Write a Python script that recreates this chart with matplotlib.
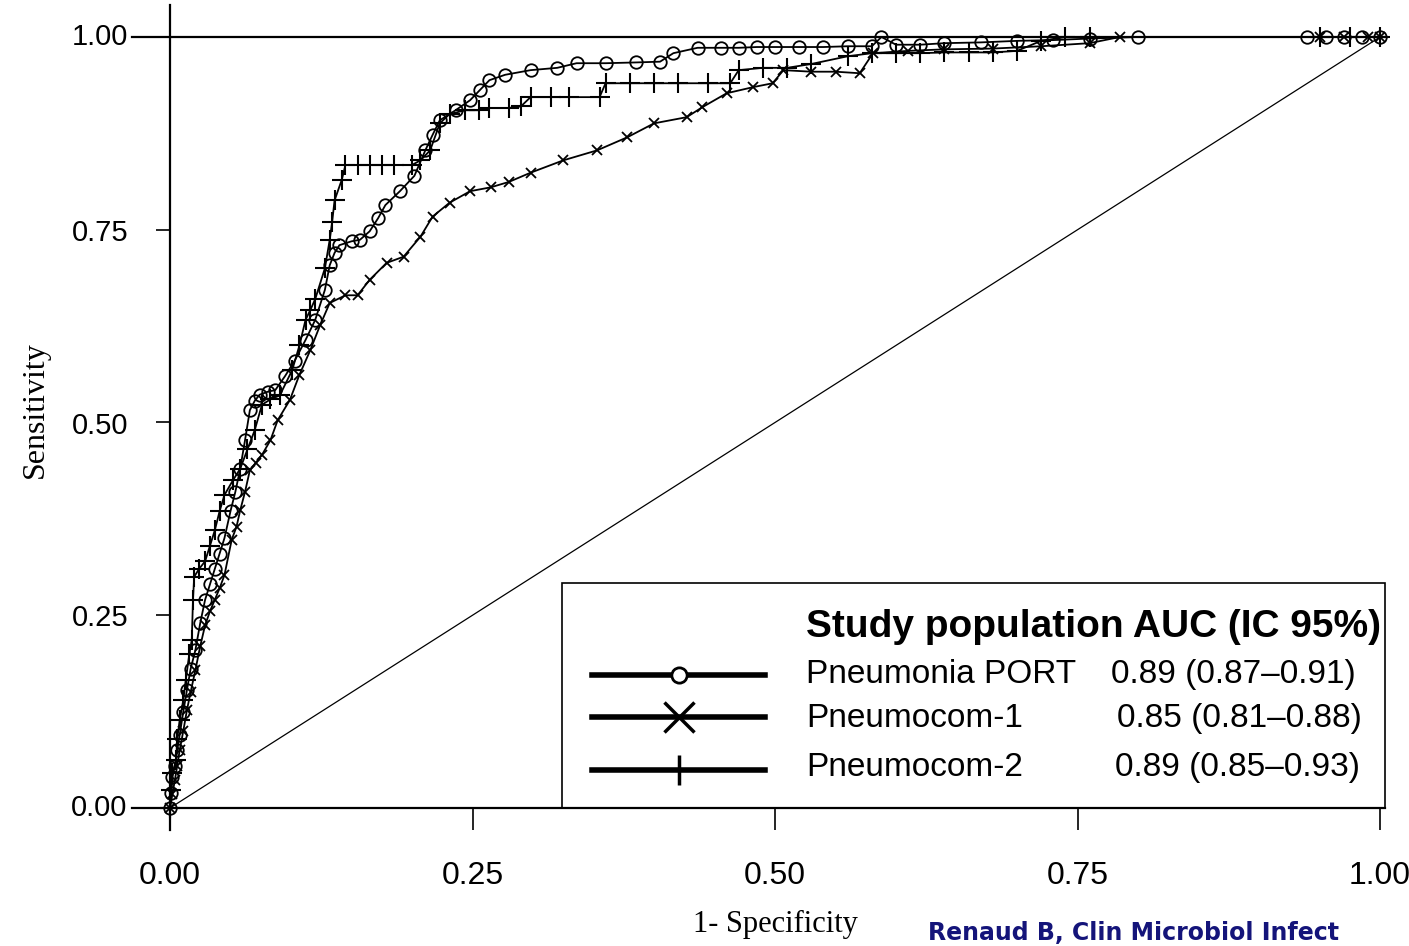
import matplotlib
matplotlib.use("Agg")
import matplotlib.pyplot as plt
from matplotlib.patches import Rectangle

## DATA
port_x = [0.000, 0.001, 0.002, 0.004, 0.006, 0.008, 0.011, 0.014, 0.017, 0.021, 0.025, 0.029, 0.033,
          0.037, 0.041, 0.045, 0.050, 0.054, 0.058, 0.062, 0.066, 0.070, 0.074, 0.081, 0.087, 0.095,
          0.103, 0.112, 0.120, 0.128, 0.132, 0.136, 0.140, 0.150, 0.157, 0.165, 0.172, 0.178, 0.190,
          0.202, 0.211, 0.217, 0.223, 0.236, 0.248, 0.256, 0.264, 0.277, 0.298, 0.320, 0.336, 0.360,
          0.385, 0.405, 0.416, 0.436, 0.455, 0.470, 0.485, 0.500, 0.520, 0.540, 0.560, 0.580, 0.588,
          0.600, 0.620, 0.640, 0.670, 0.700, 0.730, 0.760, 0.800, 0.940, 0.955, 0.970, 0.985, 1.000]
port_y = [0.000, 0.020, 0.040, 0.055, 0.075, 0.095, 0.125, 0.153, 0.180, 0.205, 0.240, 0.270, 0.290,
          0.310, 0.330, 0.350, 0.385, 0.410, 0.440, 0.477, 0.516, 0.528, 0.536, 0.540, 0.542, 0.560,
          0.580, 0.607, 0.633, 0.672, 0.704, 0.720, 0.730, 0.735, 0.737, 0.748, 0.765, 0.782, 0.800,
          0.820, 0.853, 0.873, 0.892, 0.905, 0.918, 0.931, 0.944, 0.951, 0.957, 0.960, 0.966, 0.966,
          0.967, 0.968, 0.979, 0.986, 0.986, 0.986, 0.987, 0.987, 0.987, 0.987, 0.988, 0.988, 1.000,
          0.990, 0.990, 0.992, 0.993, 0.995, 0.996, 0.998, 1.000, 1.000, 1.000, 1.000, 1.000, 1.000]

pc1_x = [0.000, 0.002, 0.004, 0.006, 0.008, 0.011, 0.014, 0.017, 0.021, 0.025, 0.029, 0.033, 0.037,
         0.041, 0.045, 0.051, 0.055, 0.058, 0.062, 0.066, 0.071, 0.076, 0.083, 0.089, 0.099, 0.107,
         0.116, 0.124, 0.132, 0.145, 0.155, 0.165, 0.179, 0.193, 0.207, 0.217, 0.231, 0.248, 0.265,
         0.280, 0.298, 0.325, 0.353, 0.378, 0.400, 0.427, 0.440, 0.460, 0.482, 0.498, 0.507, 0.530,
         0.550, 0.570, 0.581, 0.610, 0.640, 0.680, 0.720, 0.760, 0.785, 0.950, 0.970, 0.990, 1.000]
pc1_y = [0.000, 0.018, 0.036, 0.055, 0.075, 0.100, 0.127, 0.150, 0.179, 0.210, 0.237, 0.255, 0.270,
         0.285, 0.302, 0.348, 0.365, 0.386, 0.410, 0.438, 0.448, 0.458, 0.477, 0.503, 0.529, 0.562,
         0.594, 0.626, 0.655, 0.665, 0.665, 0.685, 0.707, 0.715, 0.741, 0.767, 0.785, 0.800, 0.805,
         0.812, 0.824, 0.840, 0.853, 0.870, 0.888, 0.896, 0.909, 0.927, 0.935, 0.940, 0.957, 0.955,
         0.955, 0.953, 0.979, 0.982, 0.984, 0.985, 0.988, 0.992, 1.000, 1.000, 1.000, 1.000, 1.000]

pc2_x = [0.000, 0.001, 0.002, 0.005, 0.006, 0.008, 0.011, 0.013, 0.016, 0.018, 0.019, 0.020, 0.024,
         0.029, 0.033, 0.037, 0.041, 0.045, 0.052, 0.058, 0.064, 0.070, 0.076, 0.083, 0.091, 0.101,
         0.107, 0.112, 0.116, 0.120, 0.128, 0.132, 0.134, 0.136, 0.142, 0.145, 0.155, 0.165, 0.175,
         0.185, 0.200, 0.207, 0.215, 0.223, 0.231, 0.244, 0.255, 0.264, 0.280, 0.290, 0.298, 0.315,
         0.330, 0.355, 0.360, 0.380, 0.400, 0.420, 0.445, 0.463, 0.470, 0.490, 0.510, 0.530, 0.560,
         0.580, 0.600, 0.620, 0.640, 0.660, 0.680, 0.700, 0.720, 0.740, 0.760, 0.950, 0.975, 1.000]
pc2_y = [0.000, 0.023, 0.045, 0.062, 0.090, 0.114, 0.140, 0.166, 0.200, 0.218, 0.270, 0.300, 0.310,
         0.320, 0.340, 0.360, 0.385, 0.406, 0.425, 0.440, 0.465, 0.490, 0.523, 0.530, 0.536, 0.568,
         0.600, 0.633, 0.646, 0.660, 0.700, 0.737, 0.760, 0.788, 0.815, 0.834, 0.834, 0.834, 0.834,
         0.834, 0.834, 0.840, 0.853, 0.888, 0.900, 0.905, 0.905, 0.908, 0.908, 0.910, 0.922, 0.922,
         0.922, 0.922, 0.940, 0.940, 0.940, 0.940, 0.940, 0.940, 0.957, 0.960, 0.960, 0.965, 0.975,
         0.979, 0.979, 0.979, 0.980, 0.980, 0.980, 0.982, 0.995, 1.000, 1.000, 1.000, 1.000, 1.000]

diag = [0, 1]
ticks = [0.00, 0.25, 0.50, 0.75, 1.00]
tick_labels = ["0.00", "0.25", "0.50", "0.75", "1.00"]

legend_title = "Study population AUC (IC 95%)"
legend_names = ["Pneumonia PORT", "Pneumocom-1", "Pneumocom-2"]
legend_auc = ["0.89 (0.87\u20130.91)", "0.85 (0.81\u20130.88)", "0.89 (0.85\u20130.93)"]

fig = plt.figure(figsize=(14.09, 9.46), dpi=100)
ax = fig.add_axes([170/1409, 138/946, 1210/1409, 771/946])
ax.set_xlim(0, 1)
ax.set_ylim(0, 1)
for s in ax.spines.values():
    s.set_visible(False)

# axis lines, drawn by hand because they stick out past the axes
ax.plot([-0.031, 1.004], [0, 0], color="black", lw=1.6, clip_on=False, zorder=5)
ax.plot([-0.031, 1.004], [1, 1], color="black", lw=1.6, clip_on=False, zorder=5)
ax.plot([0, 0], [-0.029, 1.041], color="black", lw=1.6, clip_on=False, zorder=5)

# diagonal
ax.plot(diag, diag, color="black", lw=0.9)

# ROC curves
ax.plot(port_x, port_y, color="black", lw=1.3, marker="o", ms=9, mfc="none", mew=1.3, clip_on=False)
ax.plot(pc1_x, pc1_y, color="black", lw=1.3, marker="x", ms=7, mew=1.3, clip_on=False)
ax.plot(pc2_x, pc2_y, color="black", lw=1.3, marker="+", ms=15, mew=1.5, clip_on=False)

ax.set_xticks(ticks)
ax.set_xticklabels(tick_labels, fontsize=23, family="Liberation Sans")
ax.set_yticks(ticks[1:4])
ax.set_yticklabels(tick_labels[1:4], fontsize=21, family="Liberation Sans")
ax.tick_params(axis="x", length=16, width=1.2, pad=22)
ax.tick_params(axis="y", length=10, width=1.2, pad=20)
# labels for 0 and 1 on the y axis sit at the end of the long lines
ax.text(-0.035, 0, "0.00", ha="right", va="center", fontsize=21, family="Liberation Sans")
ax.text(-0.035, 1, "1.00", ha="right", va="center", fontsize=21, family="Liberation Sans")

fig.text(35/1409, 1 - 410/946, "Sensitivity", rotation=90, ha="center", va="center",
         fontsize=23, family="Liberation Serif")
ax.set_xlabel("1- Specificity", fontsize=22, family="Liberation Serif", labelpad=14)

# legend box
ax.add_patch(Rectangle((0.324, 0), 0.68, 0.292, fill=True, fc="white", ec="black", lw=1.2,
                       clip_on=False, zorder=4))
ax.text(0.526, 0.222, legend_title, fontsize=28, fontweight="bold", family="Liberation Sans",
        va="baseline", zorder=6)
line_y = [0.1725, 0.118, 0.049]
text_y = [0.162, 0.105, 0.042]
val_x = [0.778, 0.783, 0.781]
mk = [dict(marker="o", ms=11, mfc="white", mew=2), dict(marker="x", ms=22, mew=2.5),
      dict(marker="|", ms=22, mew=2.5)]
for i in range(3):
    ax.plot([0.349, 0.492], [line_y[i], line_y[i]], color="black", lw=4, zorder=6, clip_on=False)
    ax.plot([0.421], [line_y[i]], color="black", zorder=7, clip_on=False, **mk[i])
    ax.text(0.526, text_y[i], legend_names[i], fontsize=24, family="Liberation Sans",
            va="baseline", zorder=6)
    ax.text(val_x[i], text_y[i], legend_auc[i], fontsize=24, family="Liberation Sans",
            va="baseline", zorder=6)

fig.text(928/1409, 1/946, "Renaud B, Clin Microbiol Infect", color="#14147a", fontsize=17,
         fontweight="bold", family="DejaVu Sans", va="bottom", ha="left")

fig.savefig("out.png", dpi=100, facecolor="white")
